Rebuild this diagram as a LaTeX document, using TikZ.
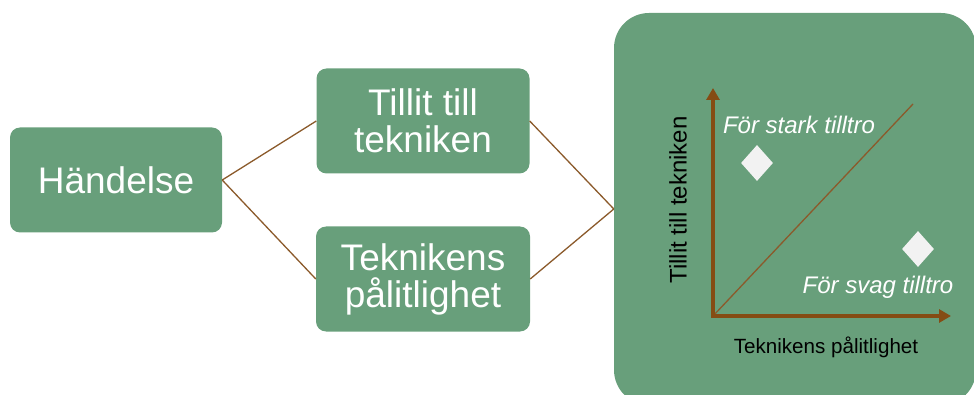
\documentclass[tikz,border=0pt]{standalone}
\usepackage{fontspec}
\setmainfont{Liberation Sans}
\usetikzlibrary{shapes.geometric,arrows.meta}
\definecolor{boxgreen}{RGB}{104,159,123}
\definecolor{linebrown}{RGB}{139,90,43}
\definecolor{axisbrown}{RGB}{133,76,20}
\definecolor{kitegrey}{RGB}{242,242,242}
\tikzset{
  box/.style={fill=boxgreen, rounded corners=10pt, text=white, align=center,
    inner sep=0pt, font=\fontsize{37}{37}\selectfont},
  panel/.style={fill=boxgreen, rounded corners=35pt, inner sep=0pt,
    minimum width=362pt, minimum height=392pt},
  link/.style={draw=linebrown, line width=1.3pt},
  axis/.style={draw=axisbrown, line width=4pt,
    {Triangle[length=12pt,width=13pt]}-{Triangle[length=12pt,width=13pt]}},
  kite/.style={diamond, fill=kitegrey, inner sep=0pt, minimum width=32pt, minimum height=36pt},
  zone/.style={text=white, font=\itshape\fontsize{24}{24}\selectfont},
  axlabel/.style={text=black, font=\fontsize{20.6}{20.6}\selectfont}
}
\begin{document}
\begin{tikzpicture}[x=1pt,y=-1pt]
   \useasboundingbox (0,0) rectangle (974,395);
   \clip (0,0) rectangle (974,395);

   \node[box, minimum width=212pt, minimum height=105pt] (handelse) at (116,180) {Händelse};
   \node[box, minimum width=213pt, minimum height=105pt] (tillit) at (423,121) {Tillit till\\tekniken};
   \node[box, minimum width=214pt, minimum height=105pt] (palitlig) at (423,279) {Teknikens\\pålitlighet};
   \node[panel] (panel) at (795,209) {};

   \draw[link] (handelse.east) -- (tillit.west);
   \draw[link] (handelse.east) -- (palitlig.west);
   \draw[link] (tillit.east) -- (panel.west);
   \draw[link] (palitlig.east) -- (panel.west);

   \coordinate (origo) at (713,316);
   \coordinate (ytop) at (713,88);
   \coordinate (xend) at (951,316);
   \coordinate (diagtop) at (913,104);
   \draw[link] (origo) -- (diagtop);
   \draw[axis] (ytop) -- (origo) -- (xend);

   \node[kite] (stark) at (757,163) {};
   \node[kite] (svag) at (918,249) {};
   \node[zone] (starktext) at (799,125) {För stark tilltro};
   \node[zone] (svagtext) at (878,287) {För svag tilltro};
   \node[axlabel, font=\fontsize{24}{24}\selectfont, rotate=90] (ylabel) at (678,200) {Tillit till tekniken};
   \node[axlabel] (xlabel) at (826,347) {Teknikens pålitlighet};
\end{tikzpicture}
\end{document}
